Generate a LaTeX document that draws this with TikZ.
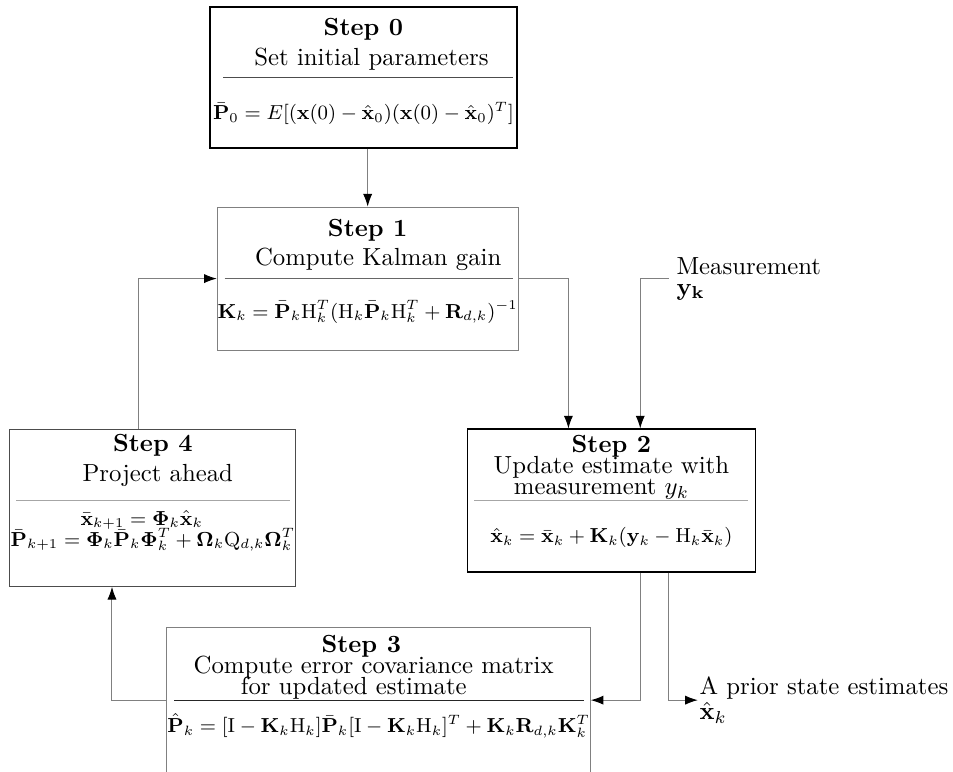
\documentclass[tikz,border=0pt]{standalone}
\usepackage{amsmath}
\usepackage{amssymb}
\usepackage{graphicx}
\usetikzlibrary{positioning,arrows.meta}

\newcommand{\eqsz}[1]{\scalebox{0.91}{$#1$}}

\tikzset{
  stepbox/.style={rectangle, draw=black!50, inner sep=0pt},
  ttl/.style={align=center, inner sep=0pt},
  eqn/.style={align=center, inner sep=0pt, font=\small},
  note/.style={align=left, inner ysep=0pt},
  conn/.style={draw=black!50, -{Latex[length=1.8mm,width=1.3mm,color=black]}}
}

\begin{document}
\begin{tikzpicture}
  \useasboundingbox (0,0) rectangle (13.53,-10.96);

  % boxes
  \node[stepbox, draw=black, line width=0.6pt, minimum width=4.36cm, minimum height=2.0cm] (s0) at (5.16,-1.10) {};
  \node[stepbox, minimum width=4.27cm, minimum height=2.03cm] (s1) at (5.22,-3.955) {};
  \node[stepbox, draw=black!70, minimum width=4.06cm, minimum height=2.23cm] (s4) at (2.17,-7.21) {};
  \node[stepbox, draw=black, line width=0.5pt, minimum width=4.09cm, minimum height=2.03cm] (s2) at (8.68,-7.107) {};
  \node[stepbox, minimum width=6.01cm, minimum height=2.05cm] (s3) at (5.375,-9.94) {};

  % Step 0
  \node[ttl, above=0.1cm of s0.center] (s0t) {\textbf{Step 0}\\ \hspace*{6.5pt}Set initial parameters};
  \draw[black!70] ([xshift=0.2cm]s0.west) -- ([xshift=-0.07cm]s0.east);
  \node[eqn, below=0.34cm of s0.center] (s0e)
    {\eqsz{\bar{\mathbf{P}}_0 = E[(\mathbf{x}(0)-\hat{\mathbf{x}}_0)(\mathbf{x}(0)-\hat{\mathbf{x}}_0)^T]}};

  % Step 1
  \node[ttl, above=0.1cm of s1.center] (s1t) {\textbf{Step 1}\\ \hspace*{8.5pt}Compute Kalman gain};
  \draw[black!60] ([xshift=0.11cm]s1.west) -- ([xshift=-0.08cm]s1.east);
  \node[eqn, below=0.3cm of s1.center] (s1e)
    {\eqsz{\mathbf{K}_k = \bar{\mathbf{P}}_k\mathrm{H}_k^T(\mathrm{H}_k\bar{\mathbf{P}}_k\mathrm{H}_k^T+\mathbf{R}_{d,k})^{-1}}};

  % Step 4
  \node[ttl, above=0.3cm of s4.center] (s4t) {\textbf{Step 4}\\ \hspace*{4pt}Project ahead};
  \draw[black!35] ([xshift=0.1cm,yshift=0.107cm]s4.west) -- ([xshift=-0.09cm,yshift=0.107cm]s4.east);
  \node[eqn, below=0.035cm of s4.center] (s4e)
    {\eqsz{\bar{\mathbf{x}}_{k+1} = \mathbf{\Phi}_k\hat{\mathbf{x}}_k}\hspace*{9pt}\\[-2.5pt]
     \eqsz{\bar{\mathbf{P}}_{k+1} = \mathbf{\Phi}_k\bar{\mathbf{P}}_k\mathbf{\Phi}_k^T+\mathbf{\Omega}_k\mathrm{Q}_{d,k}\mathbf{\Omega}_k^T}};

  % Step 2
  \node[ttl, above=0.01cm of s2.center] (s2t)
    {\textbf{Step 2}\\[-3.5pt] Update estimate with\\[-3.5pt] measurement $y_k$\hspace*{8pt}};
  \draw[black!35] ([xshift=0.11cm]s2.west) -- ([xshift=-0.11cm]s2.east);
  \node[eqn, below=0.376cm of s2.center] (s2e)
    {\eqsz{\hat{\mathbf{x}}_k = \bar{\mathbf{x}}_k+\mathbf{K}_k(\mathbf{y}_k-\mathrm{H}_k\bar{\mathbf{x}}_k)}};

  % Step 3
  \node[ttl, above=0.005cm of s3.center, xshift=-0.07cm] (s3t)
    {\textbf{Step 3}\hspace*{10pt}\\[-3.5pt] Compute error covariance matrix\\[-3.5pt] for updated estimate\hspace*{16pt}};
  \draw[black!85] ([xshift=0.11cm]s3.west) -- ([xshift=-0.1cm]s3.east);
  \node[eqn, below=0.185cm of s3.center] (s3e)
    {\eqsz{\hat{\mathbf{P}}_k = [\mathrm{I}-\mathbf{K}_k\mathrm{H}_k]\bar{\mathbf{P}}_k[\mathrm{I}-\mathbf{K}_k\mathrm{H}_k]^T+\mathbf{K}_k\mathbf{R}_{d,k}\mathbf{K}_k^T}};

  % inputs and outputs
  \node[note, inner xsep=3pt, right=2.13cm of s1.east] (meas) {Measurement\\[-3.5pt] $\mathbf{y_k}$};
  \node[note, inner xsep=0.5pt, right=1.52cm of s3.east] (prior) {A prior state estimates\\[-2pt] $\hat{\mathbf{x}}_k$};

  % connectors
  \draw[conn] (s0.south -| s1.north) -- (s1.north);
  \draw[conn] (s1.east) -| ([xshift=-0.61cm]s2.north);
  \draw[conn] (meas.west) -| ([xshift=0.41cm]s2.north);
  \draw[conn] ([xshift=0.41cm]s2.south) |- (s3.east);
  \draw[conn] ([xshift=0.81cm]s2.south) |- (prior.west);
  \draw[conn] (s3.west) -| ([xshift=-0.58cm]s4.south);
  \draw[conn] ([xshift=-0.2cm]s4.north) |- (s1.west);
\end{tikzpicture}
\end{document}
